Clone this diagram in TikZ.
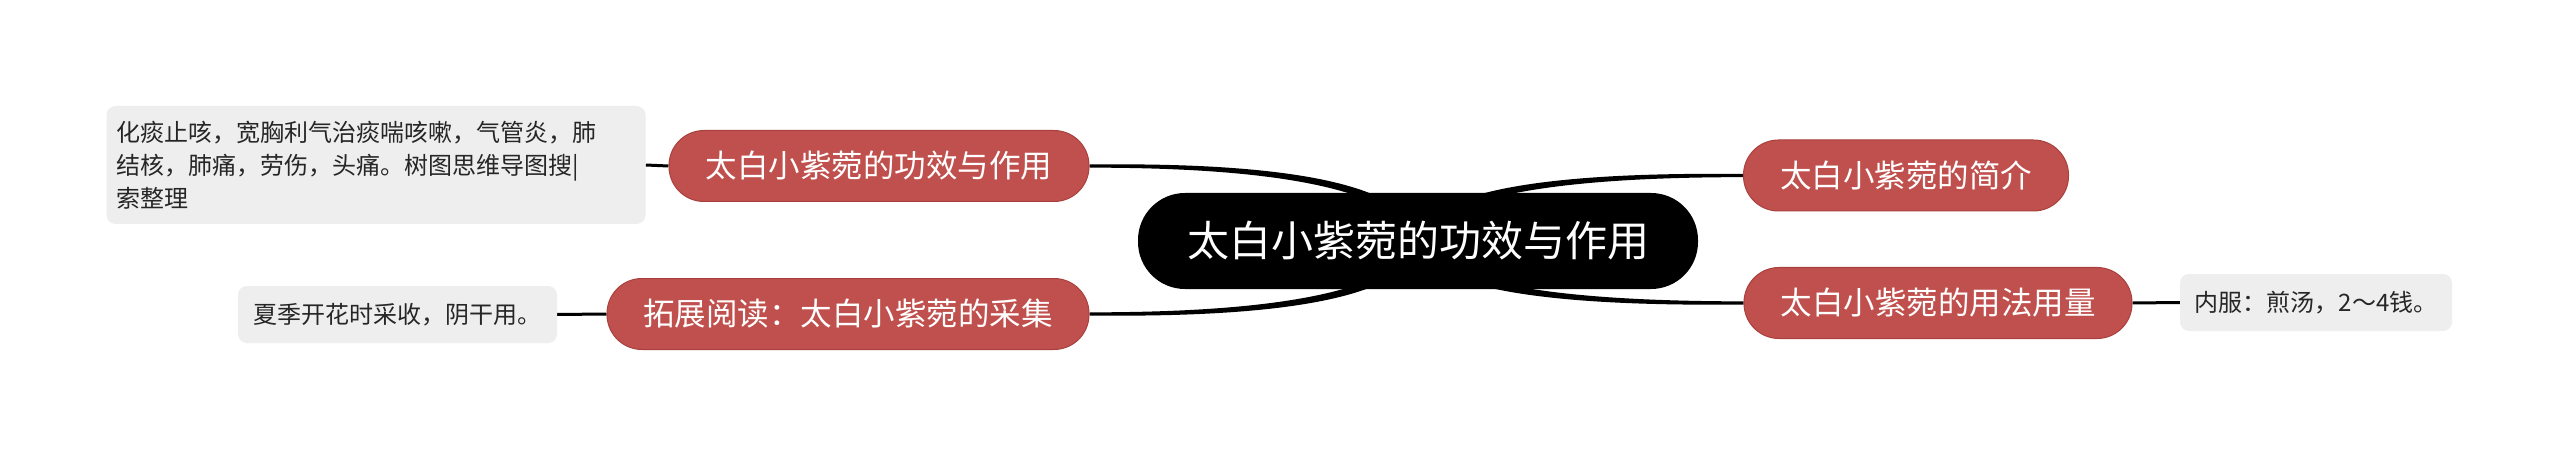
\documentclass[tikz,border=0pt]{standalone}
\usepackage{fontspec}
\setmainfont{Noto Sans CJK SC}
\usetikzlibrary{calc}
\pgfdeclarelayer{bg}
\pgfsetlayers{bg,main}
\definecolor{redfill}{HTML}{C0504D}
\definecolor{redline}{HTML}{A9403D}
\definecolor{leafgray}{HTML}{EEEEEE}
\newcommand\taperline[2]{%
  \fill[black] let \p1=(#1), \p2=(#2) in
  (\x1,\y1+5pt) .. controls ({\x1+0.05*(\x2-\x1)},\y2+3.5pt) and ({\x1+0.75*(\x2-\x1)},\y2+2pt) .. (\x2,\y2+1.6pt)
  -- (\x2,\y2-1.6pt) .. controls ({\x1+0.75*(\x2-\x1)},\y2-2pt) and ({\x1+0.05*(\x2-\x1)},\y2-3.5pt) .. (\x1,\y1-5pt) -- cycle;}
\tikzset{
  rootbox/.style={fill=black, text=white, rounded corners=47pt, inner sep=0pt,
    minimum height=96pt, font=\fontsize{42}{50}\selectfont},
  redbox/.style={fill=redfill, draw=redline, line width=1pt, text=white, rounded corners=35pt,
    inner sep=0pt, minimum height=71pt, font=\fontsize{31.5}{38}\selectfont},
  leafbox/.style={fill=leafgray, rounded corners=9pt, inner xsep=10pt, inner ysep=0pt,
    font=\fontsize{24}{33}\selectfont, text=black!85},
  leafline/.style={draw=black, line width=3pt}
}
\begin{document}
\begin{tikzpicture}[x=1pt,y=-1pt]
\begin{pgfonlayer}{bg}
\fill[white] (0,0) rectangle (2560,457);
\end{pgfonlayer}
\useasboundingbox (0,0) rectangle (2560,457);
\node[rootbox, minimum width=560pt] (c) at (1418,241) {太白小紫菀的功效与作用};
\node[redbox, minimum width=420pt] (n1) at (879,166) {太白小紫菀的功效与作用};
\node[redbox, minimum width=482pt] (n2) at (848,314) {拓展阅读：太白小紫菀的采集};
\node[redbox, minimum width=325pt] (n3) at (1906,175.5) {太白小紫菀的简介};
\node[redbox, minimum width=388pt] (n4) at (1938,303) {太白小紫菀的用法用量};
\node[leafbox, text width=519pt, align=left, minimum height=118pt] (g1) at (376,165)
  {化痰止咳，宽胸利气治痰喘咳嗽，气管炎，肺\\结核，肺痛，劳伤，头痛。树图思维导图搜|\\索整理};
\node[leafbox, minimum width=319pt, minimum height=57pt] (g2) at (397.5,314.5) {夏季开花时采收，阴干用。};
\node[leafbox, minimum width=272pt, minimum height=57pt] (g3) at (2316,302.5) {内服：煎汤，2～4钱。};
\begin{pgfonlayer}{bg}
\taperline{c.center}{n1.east}
\taperline{c.center}{n2.east}
\taperline{c.center}{n3.west}
\taperline{c.center}{n4.west}
\draw[leafline] (n1.west) -- (g1.east);
\draw[leafline] (n2.west) -- (g2.east);
\draw[leafline] (n4.east) -- (g3.west);
\end{pgfonlayer}
\end{tikzpicture}
\end{document}
